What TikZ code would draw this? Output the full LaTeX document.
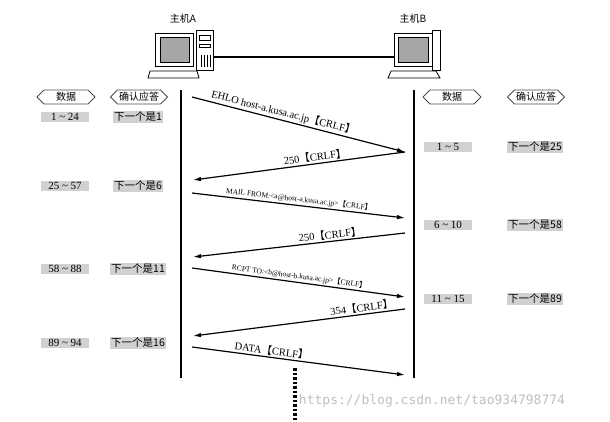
\documentclass[tikz,border=0pt]{standalone}
\usepackage{fontspec}
\setmainfont{Liberation Serif}
\newfontfamily\cjk{Noto Sans CJK SC}
\newfontfamily\wm{DejaVu Sans Mono}
\usetikzlibrary{shapes.symbols,arrows.meta}
\begin{document}
\begin{tikzpicture}[x=1pt,y=-1pt,
  hexlbl/.style={draw=black!70,thick,shape=signal,signal to=west and east,font=\cjk\fontsize{10}{10}\selectfont,inner sep=1.5pt,minimum height=14pt},
  dbox/.style={fill=black!18,font=\fontsize{11}{11}\selectfont,inner sep=1.5pt,minimum width=48pt},
  abox/.style={fill=black!18,font=\cjk\fontsize{10.5}{11}\selectfont,inner sep=1pt},
  msg/.style={-{Latex[length=8pt,width=4.5pt]},line width=1.2pt},
  mlbl/.style={sloped,above,font=\fontsize{10.5}{11}\selectfont,inner sep=1.5pt},
  slbl/.style={sloped,above,font=\fontsize{7.5}{8}\selectfont,inner sep=1.5pt}]
\useasboundingbox (0,0) rectangle (610,421);
% hosts
\node[font=\cjk\fontsize{10}{10}\selectfont] (la) at (183,19) {主机A};
\node[font=\cjk\fontsize{10}{10}\selectfont] (lb) at (413,19) {主机B};
% computer A
\draw[thick,fill=white] (155,33) rectangle (193,66);
\draw[fill=black!35] (160,37) rectangle (189,62);
\draw[thick,fill=white] (196,30) rectangle (213,70);
\draw (199,35) rectangle (210,40); \draw (199,44) rectangle (210,47);
\foreach \i in {201,204,207,210} \draw (\i,55) -- (\i,67);
\draw[thick,fill=white] (150,71) -- (197,71) -- (199,78) -- (148,78) -- cycle;
\coordinate (ca) at (213,57);
% computer B
\draw[thick,fill=white] (394,33) rectangle (432,66);
\draw[fill=black!35] (398,37) rectangle (428,62);
\draw[thick,fill=white] (432,30) rectangle (440,70);
\draw[thick,fill=white] (391,71) -- (436,71) -- (440,78) -- (388,78) -- cycle;
\coordinate (cb) at (394,57);
\draw[line width=2.5pt] (ca) -- (cb);
% lifelines
\coordinate (at) at (181,90); \coordinate (ab) at (181,378);
\coordinate (bt) at (414,90); \coordinate (bb) at (414,378);
\draw[line width=1.2pt] (at) -- (ab); \draw[line width=1.2pt] (bt) -- (bb);
% headers
\node[hexlbl,minimum width=58pt] (h1) at (66,97) {数据};
\node[hexlbl] (h2) at (139,97) {确认应答};
\node[hexlbl,minimum width=58pt] (h3) at (452,97) {数据};
\node[hexlbl] (h4) at (536,97) {确认应答};
% left rows
\node[dbox] (l1) at (65,117) {1 \textasciitilde{} 24};
\node[abox] (m1) at (138,117) {下一个是1};
\node[dbox] (l2) at (65,186) {25 \textasciitilde{} 57};
\node[abox] (m2) at (138,186) {下一个是6};
\node[dbox] (l3) at (65,269) {58 \textasciitilde{} 88};
\node[abox] (m3) at (138,269) {下一个是11};
\node[dbox] (l4) at (65,343) {89 \textasciitilde{} 94};
\node[abox] (m4) at (138,343) {下一个是16};
% right rows
\node[dbox] (r1) at (448,147) {1 \textasciitilde{} 5};
\node[abox] (s1) at (535,147) {下一个是25};
\node[dbox] (r2) at (448,225) {6 \textasciitilde{} 10};
\node[abox] (s2) at (535,225) {下一个是58};
\node[dbox] (r3) at (448,299) {11 \textasciitilde{} 15};
\node[abox] (s3) at (535,299) {下一个是89};
% messages
\coordinate (a1) at (192,97);  \coordinate (b1) at (405,152);
\coordinate (b2) at (405,152); \coordinate (a2) at (193,180);
\coordinate (a3) at (192,193); \coordinate (b3) at (405,218);
\coordinate (b4) at (405,233); \coordinate (a4) at (193,257);
\coordinate (a5) at (192,268); \coordinate (b5) at (405,297);
\coordinate (b6) at (405,309); \coordinate (a6) at (193,336);
\coordinate (a7) at (192,347); \coordinate (b7) at (405,375);
\draw[msg] (a1) -- node[mlbl,pos=0.42] {EHLO host-a.kusa.ac.jp{\cjk【}CRLF{\cjk】}} (b1);
\draw[msg] (b2) -- node[mlbl,pos=0.42] {250{\cjk【}CRLF{\cjk】}} (a2);
\draw[msg] (a3) -- node[slbl,pos=0.5] {MAIL FROM:<a@host-a.kusa.ac.jp>{\cjk【}CRLF{\cjk】}} (b3);
\draw[msg] (b4) -- node[mlbl,pos=0.35] {250{\cjk【}CRLF{\cjk】}} (a4);
\draw[msg] (a5) -- node[slbl,pos=0.5] {RCPT TO:<b@host-b.kusa.ac.jp>{\cjk【}CRLF{\cjk】}} (b5);
\draw[msg] (b6) -- node[mlbl,pos=0.2] {354{\cjk【}CRLF{\cjk】}} (a6);
\draw[msg] (a7) -- node[mlbl,pos=0.37] {DATA{\cjk【}CRLF{\cjk】}} (b7);
% continuation
\coordinate (d1) at (295,368); \coordinate (d2) at (295,421);
\draw[line width=4pt,dash pattern=on 2.5pt off 2pt] (d1) -- (d2);
% watermark
\node[font=\wm\fontsize{13}{13}\selectfont,text=black!25] (wm) at (432,401) {https://blog.csdn.net/tao934798774};
\end{tikzpicture}
\end{document}
